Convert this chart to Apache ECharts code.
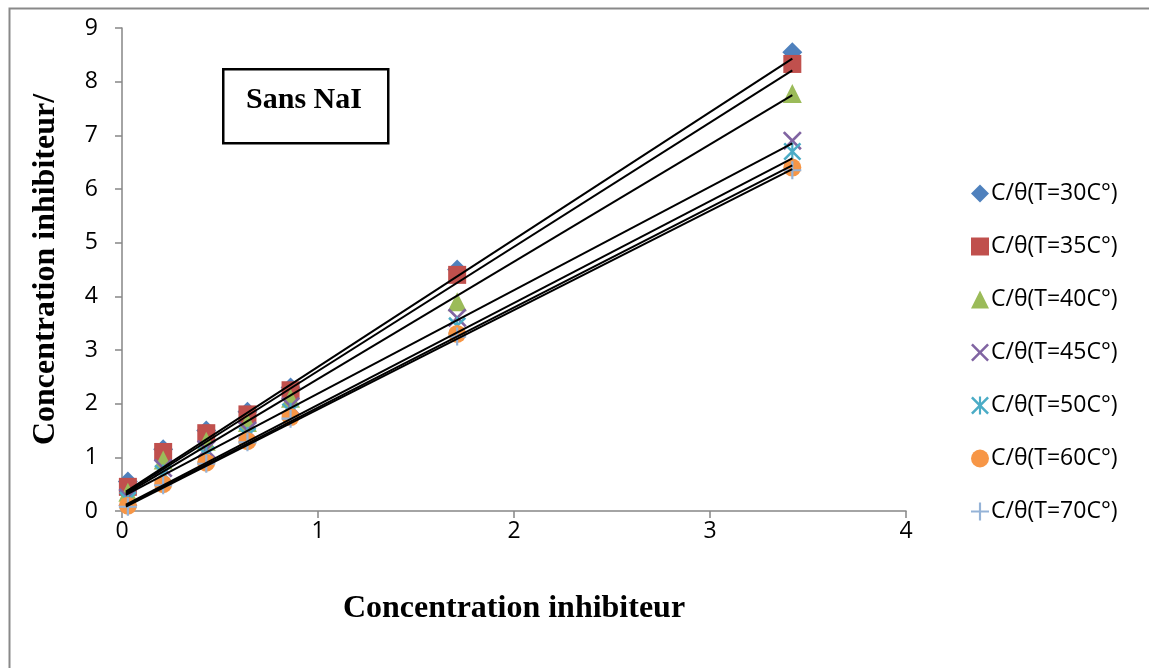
<!DOCTYPE html>
<html>
<head>
<meta charset="utf-8">
<script src="https://cdn.jsdelivr.net/npm/echarts@6/dist/echarts.min.js"></script>
<style>html,body{margin:0;padding:0;background:#fff;}#c{width:1149px;height:668px;}</style>
</head>
<body>
<div id="c"></div>
<script>
var xValues = [0.03, 0.21, 0.43, 0.64, 0.86, 1.71, 3.42];
var seriesNames = ['C/θ(T=30C°)', 'C/θ(T=35C°)', 'C/θ(T=40C°)', 'C/θ(T=45C°)', 'C/θ(T=50C°)', 'C/θ(T=60C°)', 'C/θ(T=70C°)'];
var t30 = [0.55, 1.15, 1.5, 1.85, 2.3, 4.5, 8.55];
var t35 = [0.45, 1.1, 1.45, 1.8, 2.25, 4.4, 8.33];
var t40 = [0.35, 0.95, 1.3, 1.65, 2.1, 3.9, 7.78];
var t45 = [0.25, 0.8, 1.15, 1.5, 1.95, 3.6, 6.9];
var t50 = [0.2, 0.7, 1.05, 1.4, 1.85, 3.45, 6.7];
var t60 = [0.1, 0.5, 0.9, 1.3, 1.75, 3.3, 6.4];
var t70 = [0.08, 0.48, 0.88, 1.28, 1.72, 3.25, 6.35];
var trendX = [0.02, 3.42];
var trendStart = [0.36, 0.34, 0.32, 0.3, 0.12, 0.1, 0.08];
var trendEnd = [8.43, 8.21, 7.75, 6.85, 6.57, 6.44, 6.37];
var xTicks = [0, 1, 2, 3, 4];
var yTicks = [0, 1, 2, 3, 4, 5, 6, 7, 8, 9];

var allY = [t30, t35, t40, t45, t50, t60, t70];
var colors = ['#4F81BD', '#C0504D', '#9BBB59', '#8064A2', '#4BACC6', '#F79646', '#95B3D7'];
var symX = 'path://M0,1 L1,0 L5,4 L9,0 L10,1 L6,5 L10,9 L9,10 L5,6 L1,10 L0,9 L4,5 Z';
var symAst = 'path://M0,1 L1,0 L5,4 L9,0 L10,1 L6,5 L10,9 L9,10 L5,6 L1,10 L0,9 L4,5 Z M4.4,0 L5.6,0 L5.6,10 L4.4,10 Z';
var symPlus = 'path://M4.4,0 L5.6,0 L5.6,4.4 L10,4.4 L10,5.6 L5.6,5.6 L5.6,10 L4.4,10 L4.4,5.6 L0,5.6 L0,4.4 L4.4,4.4 Z';
var symbols = ['diamond', 'rect', 'triangle', symX, symAst, 'circle', symPlus];
var sizes = [20, 18, 19, 19, 18, 18, 18];

var series = [];
for (var i = 0; i < allY.length; i++) {
  var d = [];
  for (var j = 0; j < xValues.length; j++) d.push([xValues[j], allY[i][j]]);
  series.push({
    name: seriesNames[i], type: 'scatter', data: d,
    symbol: symbols[i], symbolSize: sizes[i],
    itemStyle: { color: colors[i], opacity: 1 }, z: 2
  });
}
for (var k = 0; k < trendStart.length; k++) {
  series.push({
    type: 'line', silent: true, showSymbol: false, symbol: 'none',
    data: [[trendX[0], trendStart[k]], [trendX[1], trendEnd[k]]],
    lineStyle: { color: '#000', width: 2 }, z: 3
  });
}

var chart = echarts.init(document.getElementById('c'), null, { renderer: 'canvas' });
chart.setOption({
  animation: false,
  backgroundColor: '#fff',
  grid: { left: 122, right: 243, top: 28, bottom: 157, containLabel: false },
  xAxis: {
    type: 'value', min: 0, max: 4, interval: 1,
    axisLine: { show: true, onZero: false, lineStyle: { color: '#868686', width: 1.5 } },
    axisTick: { show: true, length: 7, lineStyle: { color: '#868686', width: 1.5 } },
    axisLabel: { color: '#000', fontSize: 23, fontFamily: 'Open Sans', margin: 9,
      formatter: function (v) { return xTicks.indexOf(v) >= 0 ? String(v) : ''; } },
    splitLine: { show: false },
    name: 'Concentration inhibiteur', nameLocation: 'middle', nameGap: 82,
    nameTextStyle: { color: '#000', fontSize: 32, fontWeight: 'bold', fontFamily: 'Liberation Serif' }
  },
  yAxis: {
    type: 'value', min: 0, max: 9, interval: 1,
    axisLine: { show: true, onZero: false, lineStyle: { color: '#868686', width: 1.5 } },
    axisTick: { show: true, length: 7, lineStyle: { color: '#868686', width: 1.5 } },
    axisLabel: { color: '#000', fontSize: 23, fontFamily: 'Open Sans', margin: 24,
      formatter: function (v) { return yTicks.indexOf(v) >= 0 ? String(v) : ''; } },
    splitLine: { show: false },
    name: 'Concentration inhibiteur/', nameLocation: 'middle', nameGap: 60,
    nameTextStyle: { color: '#000', fontSize: 32, fontWeight: 'bold', fontFamily: 'Liberation Serif' }
  },
  legend: {
    data: seriesNames, orient: 'vertical', left: 966, top: 177,
    itemWidth: 18, itemHeight: 18, itemGap: 30,
    textStyle: { color: '#000', fontSize: 23, fontFamily: 'Open Sans', padding: [0, 0, 0, -3] }
  },
  graphic: [
    { type: 'rect', left: 7, top: 6, shape: { width: 1200, height: 700 },
      style: { fill: 'none', stroke: '#898989', lineWidth: 2 }, silent: true, z: -10 },
    { type: 'rect', left: 222, top: 68, shape: { width: 165, height: 74 },
      style: { fill: '#fff', stroke: '#000', lineWidth: 2.5 }, z: 100 },
    { type: 'text', x: 304, y: 100, z: 101,
      style: { text: 'Sans NaI', fill: '#000', font: 'bold 30px "Liberation Serif"', align: 'center', verticalAlign: 'middle' } }
  ],
  series: series
});
</script>
</body>
</html>
